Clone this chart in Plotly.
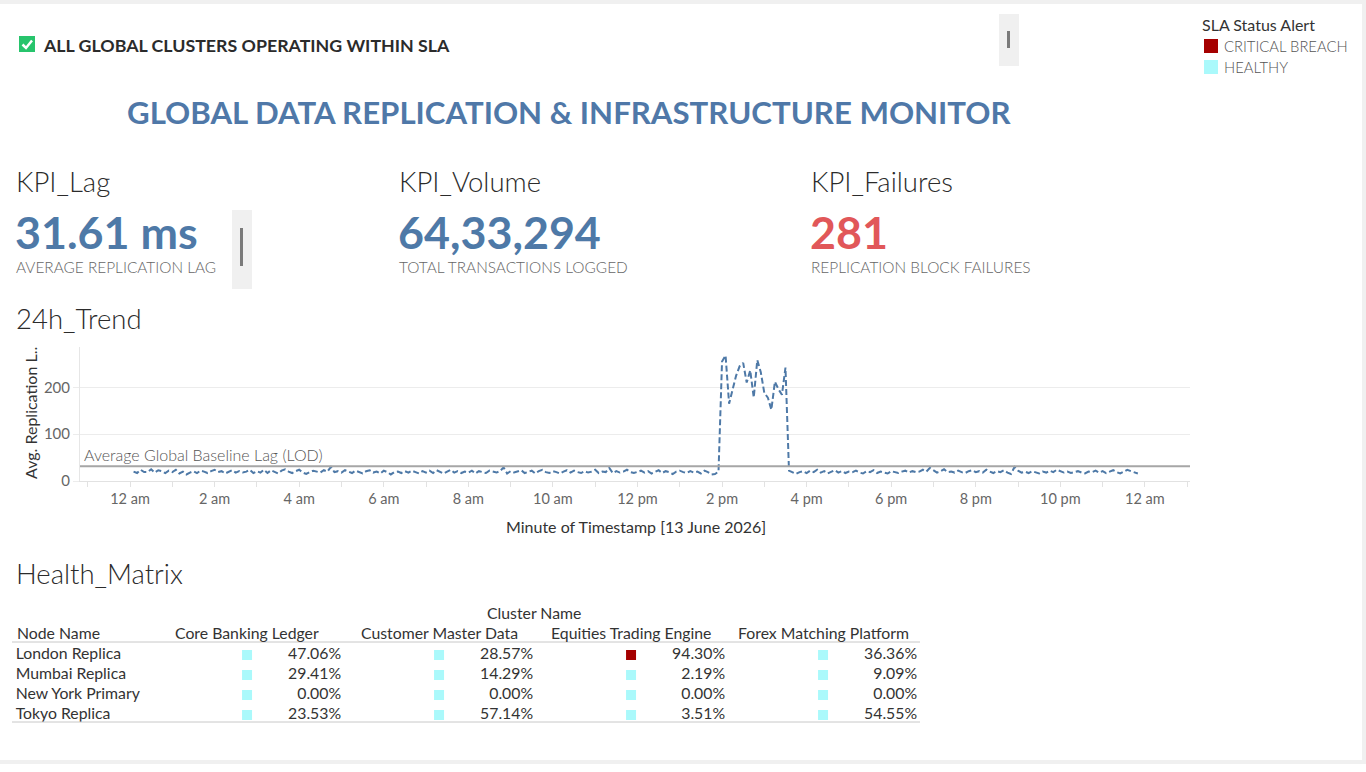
import plotly.graph_objects as go
import pandas as pd

W, H = 1366, 772
H_MAP = 764  # vertical pixel span the page is photographed at

# ---------------- DATA ----------------
# Avg. replication lag (ms) per 5-minute slot, 13 June 2026, from 00:05
lag_hour_00 = [20, 17, 24, 19, 19, 25, 18, 23, 21, 17, 22]
lag_hour_01 = [19, 24, 16, 20, 14, 18, 21, 17, 22, 20, 17, 21]
lag_hour_02 = [24, 19, 21, 16, 20, 23, 18, 21, 18, 20, 24, 17]
lag_hour_03 = [21, 18, 24, 17, 23, 19, 16, 22, 25, 20, 17, 21]
lag_hour_04 = [24, 18, 15, 19, 22, 20, 18, 23, 20, 30, 19, 21]
lag_hour_05 = [18, 23, 20, 17, 22, 19, 16, 21, 23, 18, 20, 16]
lag_hour_06 = [22, 19, 14, 19, 20, 17, 21, 18, 22, 19, 16, 21]
lag_hour_07 = [18, 22, 17, 23, 19, 16, 20, 24, 18, 21, 17, 20]
lag_hour_08 = [18, 22, 16, 21, 19, 17, 22, 20, 18, 21, 29, 16]
lag_hour_09 = [21, 18, 20, 23, 17, 20, 22, 16, 21, 24, 19, 17]
lag_hour_10 = [21, 19, 16, 20, 23, 18, 22, 19, 17, 21, 18, 20]
lag_hour_11 = [24, 17, 20, 19, 28, 17, 21, 18, 20, 24, 19, 17]
lag_hour_12 = [20, 22, 18, 21, 16, 19, 23, 17, 21, 19, 15, 20]
lag_hour_13 = [22, 19, 17, 21, 18, 20, 16, 22, 19, 14, 15, 20]
lag_hour_14 = [255, 268, 165, 195, 225, 245, 252, 210, 236, 178, 258, 232]
lag_hour_15 = [188, 178, 152, 212, 196, 184, 242, 22, 18, 15, 19, 21]
lag_hour_16 = [17, 22, 19, 24, 18, 21, 16, 20, 23, 18, 21, 17]
lag_hour_17 = [20, 19, 22, 18, 16, 21, 19, 23, 17, 20, 18, 16]
lag_hour_18 = [21, 19, 17, 20, 22, 18, 21, 19, 20, 24, 20, 28]
lag_hour_19 = [23, 18, 21, 25, 19, 20, 18, 22, 19, 17, 21, 23]
lag_hour_20 = [19, 21, 18, 24, 20, 17, 21, 19, 23, 18, 15, 30]
lag_hour_21 = [22, 18, 20, 17, 21, 19, 16, 20, 18, 22, 19, 24]
lag_hour_22 = [21, 18, 20, 17, 19, 21, 18, 16, 20, 19, 22, 18]
lag_hour_23 = [21, 17, 20, 23, 19, 16, 20, 24, 21, 18, 16]

lag_ms = (lag_hour_00 + lag_hour_01 + lag_hour_02 + lag_hour_03 + lag_hour_04 + lag_hour_05
          + lag_hour_06 + lag_hour_07 + lag_hour_08 + lag_hour_09 + lag_hour_10 + lag_hour_11
          + lag_hour_12 + lag_hour_13 + lag_hour_14 + lag_hour_15 + lag_hour_16 + lag_hour_17
          + lag_hour_18 + lag_hour_19 + lag_hour_20 + lag_hour_21 + lag_hour_22 + lag_hour_23)
timestamps = pd.date_range("2026-06-13 00:05", periods=len(lag_ms), freq="5min")

baseline_lag = 31.61
baseline_label = "Average Global Baseline Lag (LOD)"

x_tick_labels = ["12 am", "2 am", "4 am", "6 am", "8 am", "10 am",
                 "12 pm", "2 pm", "4 pm", "6 pm", "8 pm", "10 pm", "12 am"]
x_tick_times = pd.date_range("2026-06-13 00:00", periods=len(x_tick_labels), freq="2h")
x_minor_times = pd.date_range("2026-06-12 23:00", periods=27, freq="1h")
y_tick_values = [0, 100, 200]

kpi_lag_ms = 31.61
kpi_volume = 6433294
kpi_failures = 281

nodes = ["London Replica", "Mumbai Replica", "New York Primary", "Tokyo Replica"]
clusters = ["Core Banking Ledger", "Customer Master Data", "Equities Trading Engine", "Forex Matching Platform"]
core_banking_pct = [47.06, 29.41, 0.00, 23.53]
customer_master_pct = [28.57, 14.29, 0.00, 57.14]
equities_trading_pct = [94.30, 2.19, 0.00, 3.51]
forex_matching_pct = [36.36, 9.09, 0.00, 54.55]
core_banking_status = ["HEALTHY", "HEALTHY", "HEALTHY", "HEALTHY"]
customer_master_status = ["HEALTHY", "HEALTHY", "HEALTHY", "HEALTHY"]
equities_trading_status = ["CRITICAL BREACH", "HEALTHY", "HEALTHY", "HEALTHY"]
forex_matching_status = ["HEALTHY", "HEALTHY", "HEALTHY", "HEALTHY"]

status_colors = {"CRITICAL BREACH": "#a50000", "HEALTHY": "#aaf9fb"}

# ---------------- STYLE ----------------
FONT = "Lato"
BLUE = "#4e79a7"
DARK = "#333333"
GREY = "#666666"
TS = 15.8  # table font size


def X(px):
    return px / W


def Y(py):
    return 1 - py / H_MAP


def indian_format(n):
    s = str(int(n))
    if len(s) <= 3:
        return s
    head, tail = s[:-3], s[-3:]
    groups = []
    while len(head) > 2:
        groups.insert(0, head[-2:])
        head = head[:-2]
    if head:
        groups.insert(0, head)
    return ",".join(groups) + "," + tail


annotations = []
shapes = []


def text(px, py, s, size, color=DARK, weight="normal", xanchor="left", yanchor="middle", angle=0, family=FONT):
    annotations.append(dict(
        x=X(px), y=Y(py), xref="paper", yref="paper", text=s, showarrow=False,
        xanchor=xanchor, yanchor=yanchor, textangle=angle, borderpad=0,
        font=dict(family=family, size=size, color=color, weight=weight)))


def rect(x0, y0, x1, y1, fill, line=None):
    shapes.append(dict(type="rect", xref="paper", yref="paper",
                       x0=X(x0), x1=X(x1), y0=Y(y1), y1=Y(y0),
                       fillcolor=fill, line=dict(width=0) if line is None else line, layer="below"))


def hline(x0, x1, y, color, width=1):
    shapes.append(dict(type="line", xref="paper", yref="paper",
                       x0=X(x0), x1=X(x1), y0=Y(y), y1=Y(y),
                       line=dict(color=color, width=width)))


# page frame
rect(0, 0, W, 4, "#f0f0f0")
rect(0, H_MAP - 4, W, H_MAP, "#f0f0f0")
rect(W - 4, 0, W, H_MAP, "#f0f0f0")

# banner
rect(19, 36, 35, 52, "#27c46c")
shapes.append(dict(type="path", xref="paper", yref="paper",
                   path=f"M {X(22.5)},{Y(44.5)} L {X(26)},{Y(48)} L {X(32)},{Y(40.5)}",
                   line=dict(color="white", width=2.5)))
text(42, 45, "ALL GLOBAL CLUSTERS OPERATING WITHIN SLA", 17.8, "#2b2b2b", "bold")

# scroll handles
rect(999, 14, 1019, 66, "#f0f0f0")
rect(1007, 31, 1010, 48, "#7a7a7a")
rect(232, 210, 252, 289, "#f0f0f0")
rect(240, 228, 243, 266, "#7a7a7a")

# legend
text(1201, 25, "SLA Status Alert", 16, DARK)
rect(1204, 39, 1218, 53, status_colors["CRITICAL BREACH"])
text(1223, 46, "CRITICAL BREACH", 14.8, "#555555", 300)
rect(1204, 60, 1218, 74, status_colors["HEALTHY"])
text(1223, 67, "HEALTHY", 14.8, "#555555", 300)

# title
text(569, 112, "GLOBAL DATA REPLICATION &amp; INFRASTRUCTURE MONITOR", 31.2, "#4f78a8", "bold", xanchor="center")

# KPIs
kpis = [
    (16, "KPI_Lag", f"{kpi_lag_ms:.2f} ms", BLUE, "AVERAGE REPLICATION LAG"),
    (399, "KPI_Volume", indian_format(kpi_volume), BLUE, "TOTAL TRANSACTIONS LOGGED"),
    (811, "KPI_Failures", f"{kpi_failures}", "#e15759", "REPLICATION BLOCK FAILURES"),
]
for px, lab, val, col, sub in kpis:
    text(px - 1, 181, lab, 27.5, "#2b2b2b", 300)
    text(px - 2, 232, val, 44.8, col, "bold")
    text(px - 1, 266.5, sub, 15.4, GREY, 300)

text(15, 318, "24h_Trend", 27.5, "#2b2b2b", 300)
text(15, 573, "Health_Matrix", 27.5, "#2b2b2b", 300)

# chart labels
text(30, 413, "Avg. Replication L..", 16, DARK, angle=-90, xanchor="center")
text(636, 526, "Minute of Timestamp [13 June 2026]", 16, DARK, xanchor="center")

# ---------------- FIGURE ----------------
fig = go.Figure()

fig.add_trace(go.Scatter(
    x=timestamps, y=lag_ms, mode="lines",
    line=dict(color=BLUE, width=2, dash="6px,3px"),
    xaxis="x", yaxis="y", showlegend=False, hoverinfo="skip"))

shapes.append(dict(type="line", xref="x domain", yref="y", x0=0, x1=1,
                   y0=baseline_lag, y1=baseline_lag, line=dict(color="#a6a6a6", width=2)))
annotations.append(dict(xref="x domain", yref="y", x=0.002, y=baseline_lag, text=baseline_label,
                        showarrow=False, xanchor="left", yanchor="bottom", yshift=0,
                        font=dict(family=FONT, size=16, color="#555555", weight=300)))

# Health matrix
pct_columns = [core_banking_pct, customer_master_pct, equities_trading_pct, forex_matching_pct]
status_columns = [core_banking_status, customer_master_status, equities_trading_status, forex_matching_status]

sq_x, sq_y, sq_c, val_x, val_y, val_t = [], [], [], [], [], []
for ci, (pcts, stats) in enumerate(zip(pct_columns, status_columns)):
    for ri, (p, s) in enumerate(zip(pcts, stats)):
        sq_x.append(ci + 0.495)
        sq_y.append(ri)
        sq_c.append(status_colors[s])
        val_x.append(ci + 0.985)
        val_y.append(ri)
        val_t.append(f"{p:.2f}%")

fig.add_trace(go.Scatter(x=sq_x, y=sq_y, mode="markers", xaxis="x2", yaxis="y2",
                         marker=dict(symbol="square", size=10, color=sq_c, line=dict(width=0)),
                         showlegend=False, hoverinfo="skip"))
fig.add_trace(go.Scatter(x=val_x, y=val_y, mode="text", text=val_t, textposition="middle left",
                         textfont=dict(family=FONT, size=TS, color=DARK), xaxis="x2", yaxis="y2",
                         showlegend=False, hoverinfo="skip"))
fig.add_trace(go.Scatter(x=[-0.71] * len(nodes), y=list(range(len(nodes))), mode="text", text=nodes,
                         textposition="middle right", textfont=dict(family=FONT, size=TS, color=DARK),
                         xaxis="x2", yaxis="y2", showlegend=False, hoverinfo="skip"))
for ci, c in enumerate(clusters):
    annotations.append(dict(xref="x2", yref="y2", x=ci + 0.495, y=-1, text=c, showarrow=False,
                            xanchor="center", yanchor="middle", yshift=3,
                            font=dict(family=FONT, size=TS, color=DARK)))
annotations.append(dict(xref="x2", yref="y2", x=-0.715, y=-1, text="Node Name", showarrow=False,
                        xanchor="left", yanchor="middle", yshift=3,
                        font=dict(family=FONT, size=TS, color=DARK)))
annotations.append(dict(xref="x2", yref="y2", x=1.99, y=-2, text="Cluster Name", showarrow=False,
                        xanchor="center", yanchor="middle", yshift=3,
                        font=dict(family=FONT, size=TS, color=DARK)))
hline(12, 920, 642, "#c8c8c8", 1)
hline(12, 920, 722, "#c8c8c8", 1)

fig.update_layout(
    width=W, height=H, autosize=False,
    margin=dict(l=0, r=0, t=0, b=0),
    paper_bgcolor="white", plot_bgcolor="white",
    font=dict(family=FONT, color=DARK),
    xaxis=dict(
        domain=[X(80), X(1190)], type="date",
        range=["2026-06-12 22:49", "2026-06-14 01:04"],
        tickmode="array", tickvals=x_tick_times, ticktext=x_tick_labels,
        ticks="outside", ticklen=5, tickcolor="#e2e2e2",
        minor=dict(tickmode="array", tickvals=x_minor_times, ticks="outside", ticklen=5, tickcolor="#e2e2e2"),
        showgrid=False, zeroline=False, showline=True, linecolor="#e2e2e2", linewidth=1,
        tickfont=dict(family=FONT, size=14.5, color=GREY), fixedrange=True,
    ),
    yaxis=dict(
        domain=[Y(481), Y(346.5)], range=[0, 287],
        tickmode="array", tickvals=y_tick_values,
        ticks="outside", ticklen=6, tickcolor="#ececec",
        showgrid=True, gridcolor="#ececec", zeroline=False,
        showline=True, linecolor="#e6e6e6", linewidth=1,
        tickfont=dict(family=FONT, size=15, color=GREY), fixedrange=True,
    ),
    xaxis2=dict(domain=[0, 1], range=[-152 / 192, (W - 152) / 192], visible=False, fixedrange=True),
    yaxis2=dict(domain=[Y(734), Y(604)], range=[3.95, -2.55], visible=False, fixedrange=True),
    annotations=annotations,
    shapes=shapes,
)

fig.write_html("out.html", config={"responsive": False})
